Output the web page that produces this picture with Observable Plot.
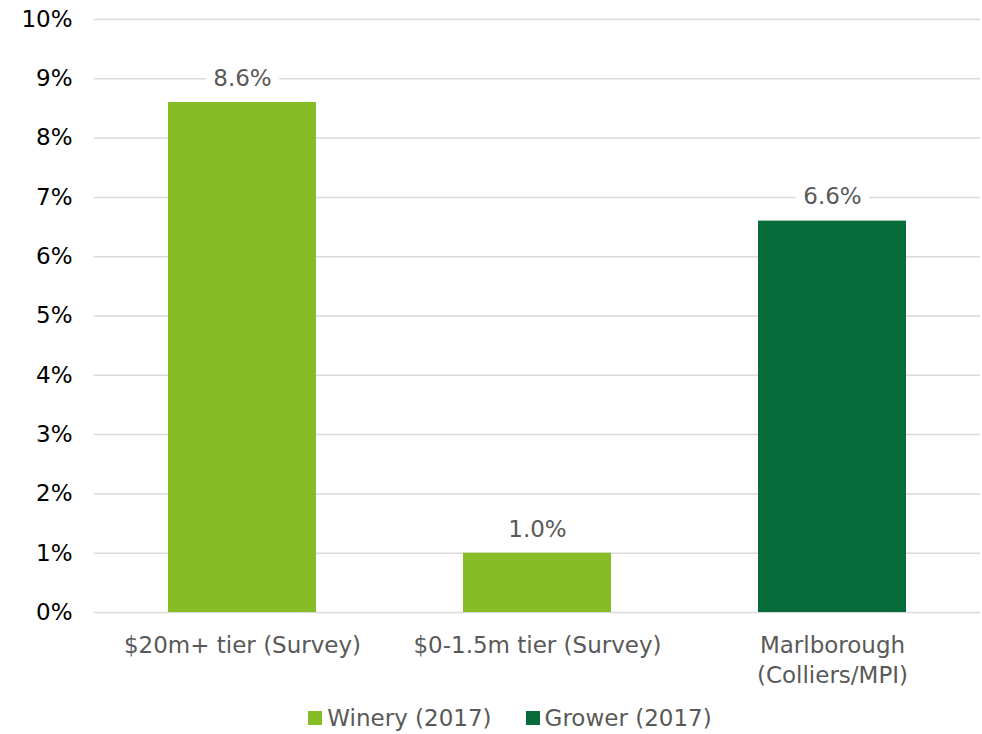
<!DOCTYPE html>
<html>
<head>
<meta charset="utf-8">
<script src="https://cdn.jsdelivr.net/npm/d3@7"></script>
<script src="https://cdn.jsdelivr.net/npm/@observablehq/plot@0.6"></script>
<style>
  body { margin: 0; background: #fff; font-family: "DejaVu Sans", Verdana, sans-serif; }
  #legend { display: flex; justify-content: center; gap: 34px; font-size: 23px; color: #595959; margin-top: 0px; padding-left: 38px; line-height: 28px; }
  #legend span.item { display: flex; align-items: center; gap: 5px; }
  #legend span.sw { display: inline-block; width: 14px; height: 14px; }
</style>
</head>
<body>
<div id="chart"></div>
<script>
const categories = ["$20m+ tier (Survey)", "$0-1.5m tier (Survey)", "Marlborough\n(Colliers/MPI)"];
const values = [8.6, 1.0, 6.6];
const series = ["Winery (2017)", "Winery (2017)", "Grower (2017)"];
const seriesNames = ["Winery (2017)", "Grower (2017)"];
const seriesColors = ["#86bc25", "#076b3a"];
const yTicks = [0, 1, 2, 3, 4, 5, 6, 7, 8, 9, 10];

const data = categories.map((c, i) => ({category: c, value: values[i], series: series[i]}));

const plot = Plot.plot({
  width: 982,
  height: 704,
  marginLeft: 94,
  marginRight: 2,
  marginTop: 19,
  marginBottom: 92,
  style: { fontFamily: "DejaVu Sans, Verdana, sans-serif", fontSize: "23px", background: "#fff" },
  x: { domain: categories, paddingInner: 0.5, paddingOuter: 0.25, label: null },
  y: { domain: [0, 10], ticks: yTicks, label: null },
  color: { domain: seriesNames, range: seriesColors },
  marks: [
    Plot.gridY(yTicks, { stroke: "#d9d9d9", strokeOpacity: 1, strokeWidth: 1.5 }),
    Plot.barY(data, { x: "category", y: "value", fill: "series" }),
    Plot.text(data, { x: "category", y: "value", text: d => d.value.toFixed(1) + "%", dy: -24, fill: "#595959", stroke: "white", strokeWidth: 18, fontSize: 23 }),
    Plot.axisY(yTicks, { tickSize: 0, tickPadding: 22, tickFormat: d => d + "%", fill: "#000", fontSize: 23 }),
    Plot.axisX({ tickSize: 0, tickPadding: 19, fill: "#595959", fontSize: 23, lineHeight: 1.3 })
  ]
});
document.getElementById("chart").appendChild(plot);

const legend = document.createElement("div");
legend.id = "legend";
seriesNames.forEach((n, i) => {
  const item = document.createElement("span");
  item.className = "item";
  const sw = document.createElement("span");
  sw.className = "sw";
  sw.style.background = seriesColors[i];
  item.appendChild(sw);
  item.appendChild(document.createTextNode(n));
  legend.appendChild(item);
});
document.body.appendChild(legend);
</script>
</body>
</html>
